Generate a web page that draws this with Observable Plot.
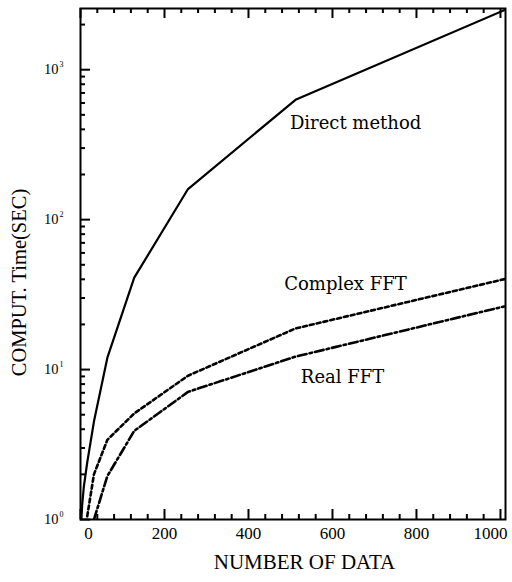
<!DOCTYPE html>
<html>
<head>
<meta charset="utf-8">
<script src="https://cdn.jsdelivr.net/npm/d3@7"></script>
<script src="https://cdn.jsdelivr.net/npm/@observablehq/plot@0.6"></script>
<style>
  html, body { margin: 0; padding: 0; background: #fff; }
  #chart svg { display: block; }
</style>
</head>
<body>
<div id="chart"></div>
<script>
// ---- data ----
const directN = [2, 4, 8, 16, 32, 64, 128, 256, 512, 1024];
const directT = [1.0, 1.25, 1.66, 2.4, 4.5, 12, 41, 160, 630, 2600];
const complexN = [16, 32, 64, 128, 256, 512, 1024];
const complexT = [1.05, 2.0, 3.4, 5.1, 9.1, 18.8, 41];
const realN = [32, 64, 128, 256, 512, 1024];
const realT = [1.0, 1.95, 3.9, 7.1, 12.2, 27];

const xTickLabels = [0, 200, 400, 600, 800, 1000];
const xMinorTicks = d3.range(0, 1001, 40);
const yMajorTicks = [1, 10, 100, 1000];
const yExponents = ["0", "1", "2", "3"];
const yMinorTicks = [];
for (const m of [1, 10, 100, 1000]) for (let k = 2; k <= 9; k++) if (m * k <= 2560) yMinorTicks.push(m * k);

const seriesNames = ["Direct method", "Complex FFT", "Real FFT"];
const labelN = [655, 631, 624];
const labelT = [437, 36.9, 8.85];

const W = 512, H = 582;
const mL = 80, mR = 7, mT = 8, mB = 63;
const innerW = W - mL - mR, innerH = H - mT - mB;
const serifA = "Liberation Serif";
const serifB = "DejaVu Serif";

const toRows = (N, T) => N.map((n, i) => ({N: n, T: T[i]}));
const labels = seriesNames.map((name, i) => ({name, N: labelN[i], T: labelT[i]}));
const xMaj = xMinorTicks.filter(d => d % 200 === 0);
const xMin = xMinorTicks.filter(d => d % 200 !== 0);

const plot = Plot.plot({
  width: W, height: H,
  marginLeft: mL, marginRight: mR, marginTop: mT, marginBottom: mB,
  x: {domain: [0, 1012], axis: null},
  y: {type: "log", domain: [1, 2560], axis: null},
  marks: [
    // inward ticks - left
    Plot.tickY(yMajorTicks, {y: d => d, insetRight: innerW - 10, stroke: "#000", strokeWidth: 2}),
    Plot.tickY(yMinorTicks, {y: d => d, insetRight: innerW - 5, stroke: "#000", strokeWidth: 2}),
    // inward ticks - bottom and top
    Plot.tickX(xMaj, {x: d => d, insetTop: innerH - 10, stroke: "#000", strokeWidth: 2}),
    Plot.tickX(xMin, {x: d => d, insetTop: innerH - 5, stroke: "#000", strokeWidth: 2}),
    Plot.tickX(xMaj, {x: d => d, insetBottom: innerH - 10, stroke: "#000", strokeWidth: 2}),
    Plot.tickX(xMin, {x: d => d, insetBottom: innerH - 5, stroke: "#000", strokeWidth: 2}),
    Plot.frame({stroke: "#000", strokeWidth: 2}),
    // curves
    Plot.line(toRows(directN, directT), {x: "N", y: "T", stroke: "#000", strokeWidth: 2.2, clip: true}),
    Plot.line(toRows(complexN, complexT), {x: "N", y: "T", stroke: "#000", strokeWidth: 2.6, strokeDasharray: "4,3", clip: true}),
    Plot.line(toRows(realN, realT), {x: "N", y: "T", stroke: "#000", strokeWidth: 2.6, strokeDasharray: "9,3,2.5,3", clip: true}),
    // curve labels
    Plot.text(labels, {x: "N", y: "T", text: "name", fontSize: 18, fontFamily: serifB, fill: "#000"}),
    // y tick labels
    Plot.text(yMajorTicks, {y: d => d, frameAnchor: "left", text: () => "10", textAnchor: "end", dx: -22, fontSize: 14.5, fontFamily: serifA, fill: "#000"}),
    Plot.text(yMajorTicks, {y: d => d, frameAnchor: "left", text: (d, i) => yExponents[i], textAnchor: "start", dx: -21, dy: -5, fontSize: 8, fontFamily: serifA, fill: "#000"}),
    // x tick labels
    Plot.text(xTickLabels.filter(d => d > 0 && d < 1000), {x: d => d, frameAnchor: "bottom", text: d => String(d), dy: 19, fontSize: 17, fontFamily: serifA, fill: "#000"}),
    Plot.text(xTickLabels.filter(d => d === 0), {x: d => d, frameAnchor: "bottom", text: d => String(d), dy: 19, dx: 8, fontSize: 17, fontFamily: serifA, fill: "#000"}),
    Plot.text(xTickLabels.filter(d => d === 1000), {x: d => d, frameAnchor: "bottom", text: d => String(d), dy: 19, dx: -10, fontSize: 17, fontFamily: serifA, fill: "#000"}),
    // axis titles
    Plot.text(["NUMBER OF DATA"], {frameAnchor: "bottom", text: d => d, dy: 49, dx: 11.5, fontSize: 21, fontFamily: serifA, fill: "#000"}),
    Plot.text(["COMPUT. Time(SEC)"], {frameAnchor: "left", text: d => d, rotate: -90, textAnchor: "middle", dx: -61, dy: 18.5, fontSize: 20.5, fontFamily: serifA, fill: "#000"})
  ]
});
document.getElementById("chart").appendChild(plot);
</script>
</body>
</html>
